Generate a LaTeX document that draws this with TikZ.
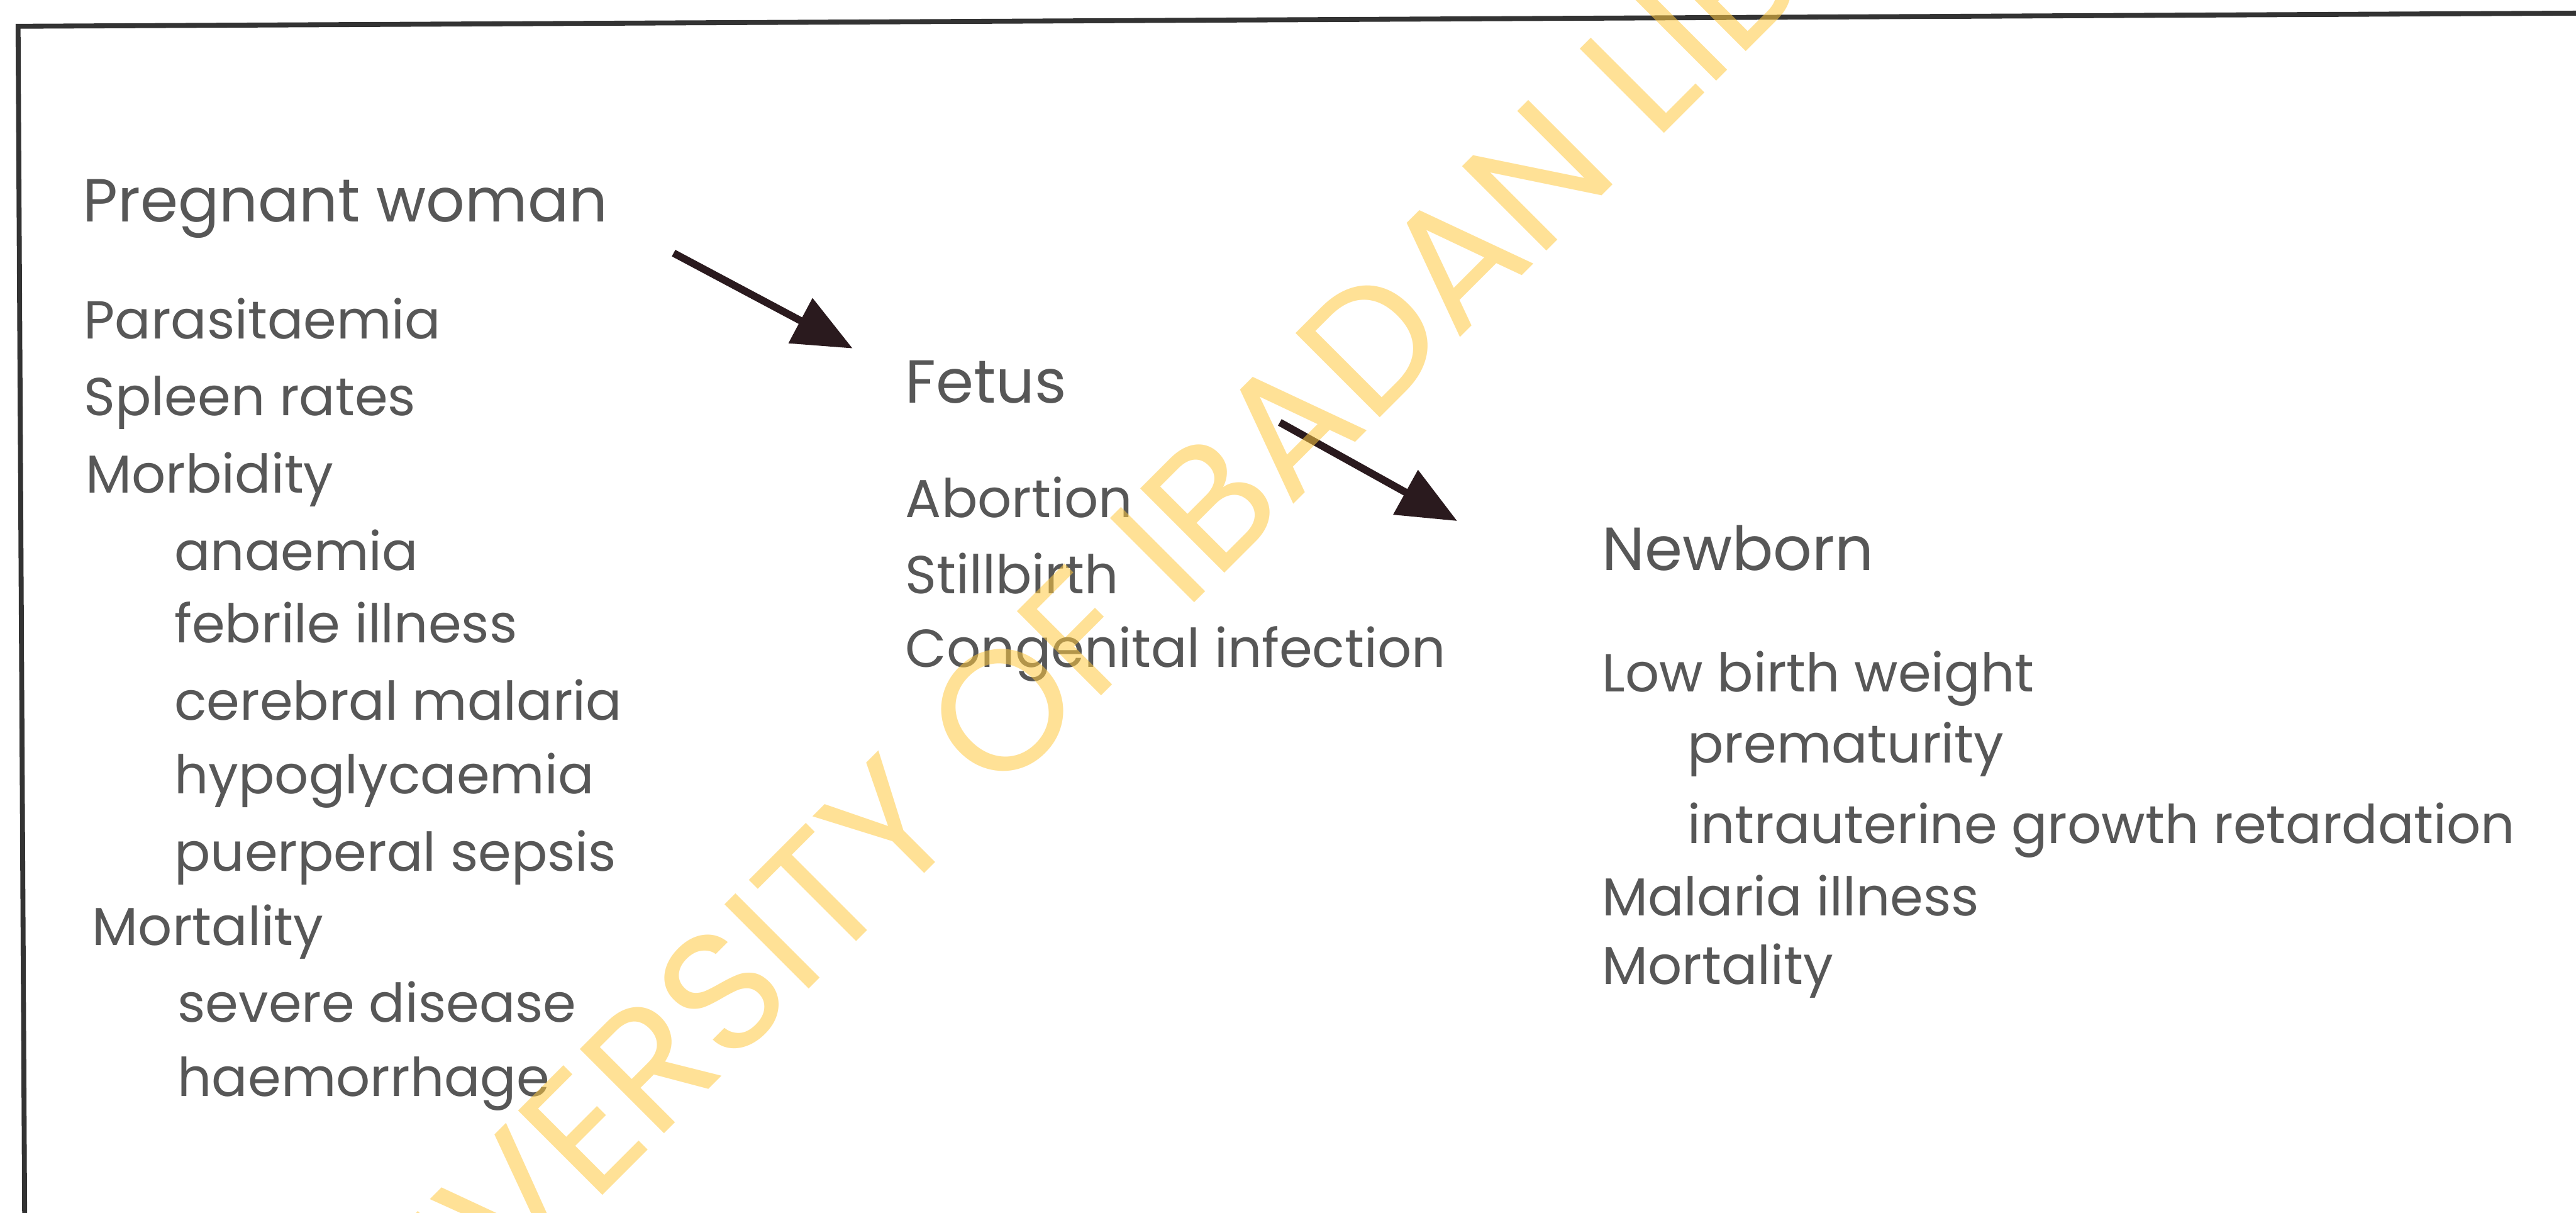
\documentclass[tikz,border=0pt]{standalone}
\usepackage{fontspec}
\setmainfont{Poppins}
\usetikzlibrary{arrows.meta}
\definecolor{inkgray}{HTML}{575757}
\definecolor{arrowink}{RGB}{42,26,30}
\definecolor{stampgold}{RGB}{255,201,65}

\begin{document}
\begin{tikzpicture}[x=1pt,y=-1pt,
  head/.style={anchor=base west,inner sep=0pt,text=inkgray,font=\fontsize{37}{37}\selectfont},
  item/.style={anchor=base west,inner sep=0pt,text=inkgray,font=\fontsize{32.5}{32.5}\selectfont},
  flow/.style={line width=4.5pt,draw=arrowink,-{Triangle[length=36pt,width=30pt]}}]
\fill[white] (0,0) rectangle (1568,738);
\useasboundingbox (0,0) rectangle (1568,738);
% frame
\draw[line width=3pt,black!80] (1568,8) -- (11,16) -- (15,738);

% pregnant woman
\node[head] (woman) at (50,135) {Pregnant woman};
\node[item] (para) at (51,206) {Parasitaemia};
\node[item] (spleen) at (51,253) {Spleen rates};
\node[item] (morb) at (52,300) {Morbidity};
\node[item] (anaem) at (106,347) {anaemia};
\node[item] (febr) at (106,391) {febrile illness};
\node[item] (cereb) at (106,438) {cerebral malaria};
\node[item] (hypo) at (106,483) {hypoglycaemia};
\node[item] (puerp) at (106,530) {puerperal sepsis};
\node[item] (mortw) at (56,575) {Mortality};
\node[item] (sev) at (108,622) {severe disease};
\node[item] (haem) at (108,667) {haemorrhage};

% fetus
\node[head] (fetus) at (551,245) {Fetus};
\node[item] (abort) at (551,315) {Abortion};
\node[item] (still) at (551,361) {Stillbirth};
\node[item] (cong) at (551,406) {Congenital infection};

% newborn
\node[head] (newborn) at (975,347) {Newborn};
\node[item] (lbw) at (975,421) {Low birth weight};
\node[item] (prem) at (1027,464) {prematurity};
\node[item] (iugr) at (1027,513) {intrauterine growth retardation};
\node[item] (malill) at (975,557) {Malaria illness};
\node[item] (mortn) at (975,599) {Mortality};

% arrows
\coordinate (w2f) at (410,154); \coordinate (fhead) at (519,212);
\coordinate (f2n) at (779,257); \coordinate (nhead) at (887,317);
\draw[flow] (w2f) -- (fhead);
\draw[flow] (f2n) -- (nhead);

% library stamp
\node[rotate=45,anchor=base,inner sep=0pt,text=stampgold,opacity=0.55,
  font=\fontsize{104}{104}\selectfont] (stamp) at (738,356) {UNIVERSITY OF IBADAN LIBRARY};
\end{tikzpicture}
\end{document}
